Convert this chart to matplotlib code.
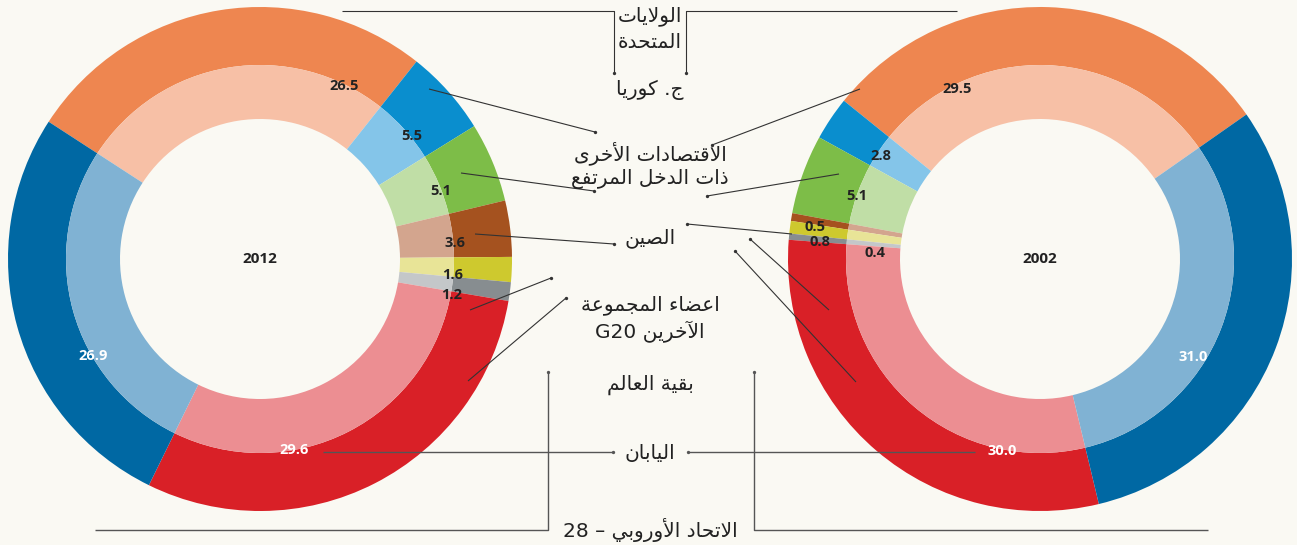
import re
import numpy as np
import matplotlib
matplotlib.use("Agg")
import matplotlib.pyplot as plt

# ---------------- data ----------------
categories = ["الولايات\nالمتحدة", "ج. كوريا", "الاقتصادات الأخرى\nذات الدخل المرتفع", "الصين",
              "اعضاء المجموعة\nالآخرين G20", "بقية العالم", "اليابان", "الاتحاد الأوروبي – 28"]
years = ["2012", "2002"]
values_2012 = [26.5, 5.5, 5.1, 3.6, 1.6, 1.2, 29.6, 26.9]
values_2002 = [29.5, 2.8, 5.1, 0.5, 0.8, 0.4, 30.0, 31.0]

outer_colors = ["#EE8650", "#0A8ECE", "#7DBD48", "#A5521F", "#CEC92E", "#878D90", "#D92027", "#0068A3"]
inner_colors = ["#F7C0A6", "#84C5E9", "#C0DEA6", "#D3A58E", "#E8E497", "#C4C7C9", "#EC8E92", "#80B2D3"]
label_colors = ["#222222"] * 6 + ["white", "white"]

BG = "#FAF9F3"
W, H = 1297, 545

# ---------------- minimal Arabic shaping (presentation forms) ----------------
AR = {
    '\u0621': (0xFE80, 1), '\u0622': (0xFE81, 2), '\u0623': (0xFE83, 2), '\u0624': (0xFE85, 2),
    '\u0625': (0xFE87, 2), '\u0626': (0xFE89, 4), '\u0627': (0xFE8D, 2), '\u0628': (0xFE8F, 4),
    '\u0629': (0xFE93, 2), '\u062A': (0xFE95, 4), '\u062B': (0xFE99, 4), '\u062C': (0xFE9D, 4),
    '\u062D': (0xFEA1, 4), '\u062E': (0xFEA5, 4), '\u062F': (0xFEA9, 2), '\u0630': (0xFEAB, 2),
    '\u0631': (0xFEAD, 2), '\u0632': (0xFEAF, 2), '\u0633': (0xFEB1, 4), '\u0634': (0xFEB5, 4),
    '\u0635': (0xFEB9, 4), '\u0636': (0xFEBD, 4), '\u0637': (0xFEC1, 4), '\u0638': (0xFEC5, 4),
    '\u0639': (0xFEC9, 4), '\u063A': (0xFECD, 4), '\u0641': (0xFED1, 4), '\u0642': (0xFED5, 4),
    '\u0643': (0xFED9, 4), '\u0644': (0xFEDD, 4), '\u0645': (0xFEE1, 4), '\u0646': (0xFEE5, 4),
    '\u0647': (0xFEE9, 4), '\u0648': (0xFEED, 2), '\u0649': (0xFEEF, 2), '\u064A': (0xFEF1, 4),
}
LAMALEF = {'\u0622': 0xFEF5, '\u0623': 0xFEF7, '\u0625': 0xFEF9, '\u0627': 0xFEFB}


def _joins_next(ch):
    return ch in AR and AR[ch][1] == 4


def shape_line(s):
    out, i, n = [], 0, len(s)
    while i < n:
        c = s[i]
        if c not in AR:
            out.append(c)
            i += 1
            continue
        prev = i > 0 and _joins_next(s[i - 1])
        if c == '\u0644' and i + 1 < n and s[i + 1] in LAMALEF:
            out.append(chr(LAMALEF[s[i + 1]] + (1 if prev else 0)))
            i += 2
            continue
        base, k = AR[c]
        nxt = k == 4 and i + 1 < n and s[i + 1] in AR
        if k == 1:
            form = 0
        elif k == 2:
            form = 1 if prev else 0
        else:
            form = (3 if nxt else 1) if prev else (2 if nxt else 0)
        out.append(chr(base + form))
        i += 1
    vis = ''.join(out)[::-1]
    return re.sub(r'[A-Za-z0-9]+', lambda m: m.group(0)[::-1], vis)


# ---------------- figure ----------------
fig = plt.figure(figsize=(W / 100, H / 100), dpi=100, facecolor=BG)
ax = fig.add_axes([0, 0, 1, 1])
ax.set_facecolor(BG)


def Y(y):
    return H - y


R_OUT, R_MID, R_IN = 252, 194, 140
charts = [
    dict(vals=values_2012, year=years[0], center=(260, Y(259)), start=147, ccw=False,
         lab=[(64, 192), (39, 195), (20.6, 193), (4.7, 196), (-4.8, 193), (-10.6, 195), (-80, 194), (210, 193)]),
    dict(vals=values_2002, year=years[1], center=(1040, Y(259)), start=35, ccw=True,
         lab=[(116, 189), (147, 190), (161, 194), (172, 227), (175.6, 221), (178, 165), (259, 196), (-32.6, 182)]),
]

for ch in charts:
    ax.pie(ch["vals"], colors=outer_colors, radius=R_OUT, center=ch["center"],
           startangle=ch["start"], counterclock=ch["ccw"],
           wedgeprops=dict(width=R_OUT - R_MID, linewidth=0, antialiased=True))
    ax.pie(ch["vals"], colors=inner_colors, radius=R_MID, center=ch["center"],
           startangle=ch["start"], counterclock=ch["ccw"],
           wedgeprops=dict(width=R_MID - R_IN, linewidth=0, antialiased=True))
    cx, cy = ch["center"]
    for v, (ang, r), col in zip(ch["vals"], ch["lab"], label_colors):
        a = np.deg2rad(ang)
        ax.text(cx + r * np.cos(a), cy + r * np.sin(a), f"{v:.1f}", ha="center", va="center",
                fontsize=10.5, fontweight="bold", color=col, family="Open Sans")
    ax.text(cx, cy, ch["year"], ha="center", va="center", fontsize=11, fontweight="bold",
            color="#222222", family="Open Sans")

# ---------------- category labels ----------------
label_y = [[16, 43], [90], [153, 179], [238], [305, 332], [385], [453], [530]]
for cat, ys in zip(categories, label_y):
    for line, y in zip(cat.split("\n"), ys):
        ax.text(650, Y(y), shape_line(line), ha="center", va="center", fontsize=14.5,
                color="#222222", family="DejaVu Sans")

# ---------------- leader lines ----------------
LC = "#333333"


def leader(pts, dot_end=True, lw=0.8, color=LC):
    xs = [p[0] for p in pts]
    ys = [Y(p[1]) for p in pts]
    ax.plot(xs, ys, color=color, lw=lw, solid_capstyle="butt")
    if dot_end:
        ax.plot(xs[-1], ys[-1], "o", ms=2.4, color=color, mew=0)


# US brackets
leader([(342, 11), (614, 11), (614, 73)])
leader([(957, 11), (686, 11), (686, 73)])
# Korea
leader([(429, 89), (595, 132)])
leader([(860, 89), (712, 145)])
# other high income
leader([(461, 173), (594, 191)])
leader([(839, 174), (707, 196)])
# China
leader([(475, 234), (614, 244)])
leader([(792, 234), (687, 224)])
# other G20 / rest of world
leader([(470, 310), (551, 278)])
leader([(468, 381), (566, 298)])
leader([(829, 310), (750, 239)])
leader([(856, 382), (735, 251)])
# Japan
leader([(323, 452), (613, 452)], lw=1.0, color="#555555")
leader([(975, 452), (688, 452)], lw=1.0, color="#555555")
# EU brackets
leader([(95, 530), (548, 530), (548, 372)], lw=1.0, color="#555555")
leader([(1208, 530), (754, 530), (754, 372)], lw=1.0, color="#555555")

ax.set_xlim(0, W)
ax.set_ylim(0, H)
ax.set_aspect("equal")
ax.axis("off")
fig.savefig("out.png", dpi=100, facecolor=BG)
